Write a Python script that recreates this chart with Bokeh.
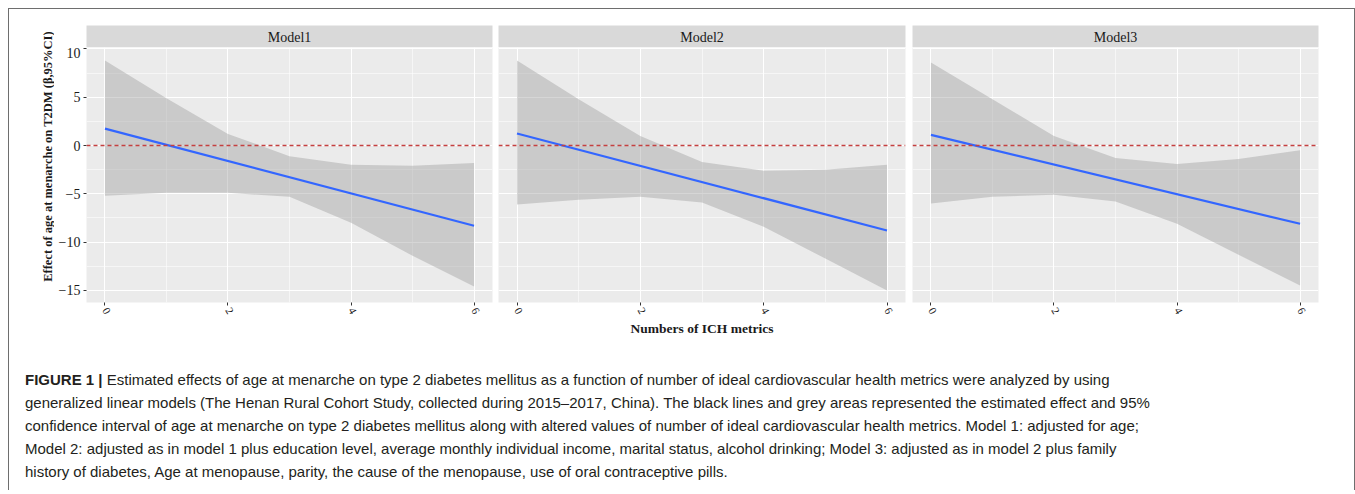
import math
from bokeh.plotting import figure
from bokeh.models import FixedTicker, Span, Div
from bokeh.layouts import column, row
from bokeh.core.properties import value
from bokeh.embed import file_html
from bokeh.resources import INLINE

# ---------------- data ----------------
panel_names = ["Model1", "Model2", "Model3"]
x_pts = [0, 1, 2, 3, 4, 5, 6]

m1_upper = [8.8, 4.9, 1.2, -1.1, -2.0, -2.1, -1.8]
m1_lower = [-5.2, -4.9, -4.9, -5.3, -8.0, -11.4, -14.6]
m2_upper = [8.8, 4.8, 1.0, -1.7, -2.6, -2.5, -2.0]
m2_lower = [-6.1, -5.6, -5.3, -5.9, -8.4, -11.7, -15.0]
m3_upper = [8.6, 4.8, 1.0, -1.3, -1.9, -1.4, -0.5]
m3_lower = [-6.0, -5.3, -5.1, -5.8, -8.1, -11.3, -14.5]

fit_x = [0, 6]
m1_fit = [1.75, -8.3]
m2_fit = [1.25, -8.8]
m3_fit = [1.1, -8.1]

ref_y = 0
x_ticks = [0, 2, 4, 6]
x_minor = [1, 3, 5]
y_ticks = [-15, -10, -5, 0, 5, 10]
y_minor = [-12.5, -7.5, -2.5, 2.5, 7.5]

y_label = "Effect of age at menarche on T2DM (\u03b2,95%CI)"
x_label = "Numbers of ICH metrics"

caption_lines = [
    "Estimated effects of age at menarche on type 2 diabetes mellitus as a function of number of ideal cardiovascular health metrics were analyzed by using",
    "generalized linear models (The Henan Rural Cohort Study, collected during 2015\u20132017, China). The black lines and grey areas represented the estimated effect and 95%",
    "confidence interval of age at menarche on type 2 diabetes mellitus along with altered values of number of ideal cardiovascular health metrics. Model 1: adjusted for age;",
    "Model 2: adjusted as in model 1 plus education level, average monthly individual income, marital status, alcohol drinking; Model 3: adjusted as in model 2 plus family",
    "history of diabetes, Age at menopause, parity, the cause of the menopause, use of oral contraceptive pills.",
]

# ---------------- style ----------------
SERIF = "Liberation Serif"
PANEL_BG = "#EBEBEB"
STRIP_BG = "#D9D9D9"
BAND = "#999999"
LINE = "#3366FF"
REF = "#C44040"
TXT = "#1A1A1A"
FRAME_COL = "#6E6E6E"

STRIP_H = 22
STRIP_TOP = 16
FRAME_H = 255
BOTTOM = 48
TOTAL_H = STRIP_TOP + STRIP_H + FRAME_H + BOTTOM
LAB_W = 45
CAP_H = 140
CONTENT_W = 1345


def make_panel(name, upper, lower, fit, ml, fw, mr, first, mid):
    w = ml + fw + mr
    s = figure(width=w, height=STRIP_TOP + STRIP_H, x_range=(0, 1), y_range=(0, 1),
               x_axis_type=None, y_axis_type=None, toolbar_location=None,
               output_backend="svg", min_border_left=ml, min_border_right=mr,
               min_border_top=STRIP_TOP, min_border_bottom=0)
    s.background_fill_color = STRIP_BG
    s.border_fill_color = "white"
    s.outline_line_color = None
    s.grid.visible = False
    s.text(x=[0.5], y=[0.45], text=[name], text_align="center", text_baseline="middle",
           text_font=value(SERIF), text_font_size="14px", text_color=TXT)

    p = figure(width=w, height=FRAME_H + BOTTOM, x_range=(-0.3, 6.3), y_range=(-16.25, 10.15),
               toolbar_location=None, output_backend="svg",
               y_axis_location="left" if first else None,
               min_border_left=ml, min_border_right=mr, min_border_top=0, min_border_bottom=BOTTOM)
    p.background_fill_color = PANEL_BG
    p.border_fill_color = "white"
    p.outline_line_color = None

    xt = FixedTicker(ticks=x_ticks, minor_ticks=x_minor)
    yt = FixedTicker(ticks=y_ticks, minor_ticks=y_minor)
    p.xaxis.ticker = xt
    p.xgrid.ticker = xt
    p.ygrid.ticker = yt
    for g in (p.xgrid, p.ygrid):
        g.grid_line_color = "white"
        g.grid_line_width = 1.1
        g.minor_grid_line_color = "white"
        g.minor_grid_line_width = 0.55

    ax = p.xaxis
    ax.axis_line_color = None
    ax.major_tick_line_color = "#333333"
    ax.major_tick_in = 0
    ax.major_tick_out = 3
    ax.minor_tick_line_color = None
    ax.major_label_orientation = -1.05
    ax.major_label_text_font = SERIF
    ax.major_label_text_font_size = "11px"
    ax.major_label_text_color = TXT
    ax.major_label_standoff = 2
    if mid:
        ax.axis_label = x_label
        ax.axis_label_text_font = SERIF
        ax.axis_label_text_font_style = "bold"
        ax.axis_label_text_font_size = "13.5px"
        ax.axis_label_text_color = TXT
        ax.axis_label_standoff = 1

    if first:
        ay = p.yaxis
        ay.ticker = yt
        ay.axis_line_color = None
        ay.major_tick_line_color = "#333333"
        ay.major_tick_in = 0
        ay.major_tick_out = 3
        ay.minor_tick_line_color = None
        ay.major_label_text_font = SERIF
        ay.major_label_text_font_size = "14px"
        ay.major_label_text_color = TXT
        ay.major_label_standoff = 2

    p.varea(x=x_pts, y1=lower, y2=upper, fill_color=BAND, fill_alpha=0.4)
    p.add_layout(Span(location=ref_y, dimension="width", line_color=REF,
                      line_width=1.5, line_dash="4 3"))
    p.line(x=fit_x, y=fit, line_color=LINE, line_width=2.2)
    return column(s, p, spacing=0)


# y-axis title as its own narrow figure so it can extend beside the strips
lab = figure(width=LAB_W, height=TOTAL_H, x_range=(0, LAB_W), y_range=(0, TOTAL_H),
             x_axis_type=None, y_axis_type=None, toolbar_location=None,
             output_backend="svg", min_border=0)
lab.outline_line_color = None
lab.grid.visible = False
lab.background_fill_color = "white"
lab.border_fill_color = "white"
lab.text(x=[LAB_W - 7], y=[TOTAL_H - 147], text=[y_label], angle=math.pi / 2,
         text_align="center", text_baseline="middle", text_font=value(SERIF),
         text_font_style="bold", text_font_size="12.5px", text_color=TXT)

c1 = make_panel(panel_names[0], m1_upper, m1_lower, m1_fit, 77 - LAB_W, 406, 3, True, False)
c2 = make_panel(panel_names[1], m2_upper, m2_lower, m2_fit, 3, 407, 3, False, True)
c3 = make_panel(panel_names[2], m3_upper, m3_lower, m3_fit, 4, 406, 36, False, False)

cap_html = ("<div style=\"font-family:'Liberation Sans Narrow','Arial Narrow',sans-serif;"
            "font-stretch:condensed;font-size:15px;line-height:23px;color:#231F20;"
            "padding:18px 0 0 16px;white-space:nowrap;\">"
            "<b>FIGURE 1 |</b> " + "<br>".join(caption_lines) + "</div>")
caption = Div(text=cap_html, width=CONTENT_W, height=CAP_H, margin=0)

content = column(row(lab, c1, c2, c3, spacing=0), caption, spacing=0)

# thin frame around the figure (top, left, right)
line_style = {"background-color": FRAME_COL}
top_rule = Div(text="", width=CONTENT_W + 2, height=1, margin=0, styles=line_style)
left_rule = Div(text="", width=1, height=TOTAL_H + CAP_H, margin=0, styles=line_style)
right_rule = Div(text="", width=1, height=TOTAL_H + CAP_H, margin=0, styles=line_style)

layout = column(top_rule, row(left_rule, content, right_rule, spacing=0),
                spacing=0, margin=(8, 0, 0, 8))

open("out.html", "w").write(file_html(layout, INLINE))
